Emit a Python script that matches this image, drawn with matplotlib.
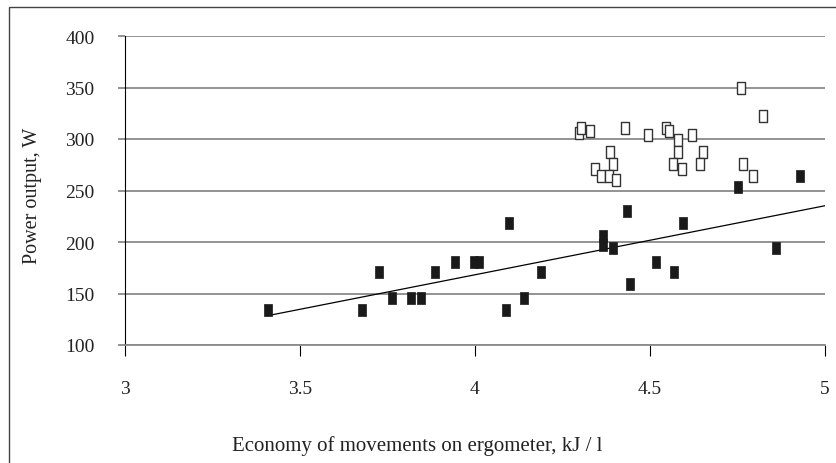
import matplotlib
matplotlib.use('Agg')
import matplotlib.pyplot as plt
import matplotlib.patches as patches
import numpy as np

plt.rcParams['font.family'] = ['Liberation Serif', 'DejaVu Serif']

# filled squares
x_filled = [3.408, 3.677, 3.725, 3.764, 3.816, 3.846, 3.886, 3.942, 3.998, 4.011,
            4.098, 4.089, 4.141, 4.189, 4.433, 4.367, 4.367, 4.393, 4.594, 4.859,
            4.516, 4.569, 4.442, 4.750, 4.929]
y_filled = [134, 134, 171, 146, 146, 146, 171, 181, 181, 181,
            218, 134, 146, 171, 230, 206, 197, 194, 218, 194,
            181, 171, 159, 253, 264]

# open squares
x_open = [4.298, 4.303, 4.329, 4.429, 4.494, 4.546, 4.555, 4.581, 4.621, 4.581,
          4.651, 4.386, 4.393, 4.342, 4.361, 4.382, 4.404, 4.565, 4.590, 4.642,
          4.760, 4.824, 4.765, 4.793]
y_open = [306, 311, 308, 311, 304, 311, 308, 299, 304, 287,
          287, 287, 276, 271, 264, 264, 260, 276, 271, 276,
          350, 322, 276, 264]

x_ticks = [3, 3.5, 4, 4.5, 5]
x_ticklabels = ['3', '3.5', '4', '4.5', '5']
y_ticks = [100, 150, 200, 250, 300, 350, 400]

# rectangular marker (taller than wide)
rect = [(-0.33, -0.5), (0.33, -0.5), (0.33, 0.5), (-0.33, 0.5), (-0.33, -0.5)]

fig = plt.figure(figsize=(8.36, 4.64), dpi=100)
ax = fig.add_axes([125/836, 118/464, 700/836, 309/464])

ax.set_xlim(3, 5)
ax.set_ylim(100, 400)

ax.grid(axis='y', color='#8a8a8a', linewidth=1.3)
ax.set_axisbelow(True)

# trend line for filled points
k, b = np.polyfit(x_filled, y_filled, 1)
xl = np.array([min(x_filled), 5.0])
ax.plot(xl, k * xl + b, color='black', linewidth=0.9, zorder=2)

ax.plot(x_filled, y_filled, linestyle='none', marker=rect, markersize=9,
        markerfacecolor='#1a1a1a', markeredgecolor='#1a1a1a', markeredgewidth=0.5, zorder=3)
ax.plot(x_open, y_open, linestyle='none', marker=rect, markersize=9,
        markerfacecolor='white', markeredgecolor='#333333', markeredgewidth=1.0, zorder=3)

for s in ['top', 'right']:
    ax.spines[s].set_visible(False)
ax.spines['left'].set_color('black')
ax.spines['left'].set_linewidth(0.8)
ax.spines['bottom'].set_color('#8a8a8a')
ax.spines['bottom'].set_linewidth(1.3)

ax.set_xticks(x_ticks)
ax.set_xticklabels(x_ticklabels)
ax.set_yticks(y_ticks)
ax.tick_params(axis='x', direction='out', length=8, width=0.8, color='black',
               pad=17, labelsize=14, labelcolor='#222222')
ax.tick_params(axis='y', direction='out', length=5, width=1.3, color='#8a8a8a',
               pad=17, labelsize=14, labelcolor='#222222')

fig.text(33/836, 1 - 196/464, 'Power output, W', rotation=90, ha='center', va='center',
         fontsize=14.5, color='#222222')
fig.text(232/836, 1 - 446/464, 'Economy of movements on ergometer, kJ / l', ha='left', va='center',
         fontsize=15, color='#222222')

# outer frame
frame = patches.Rectangle((9/836, -0.1), 1.2, 1 - 8/464 + 0.1, transform=fig.transFigure,
                          fill=False, edgecolor='#444444', linewidth=1.0)
fig.patches.append(frame)

fig.savefig('out.png', dpi=100)
